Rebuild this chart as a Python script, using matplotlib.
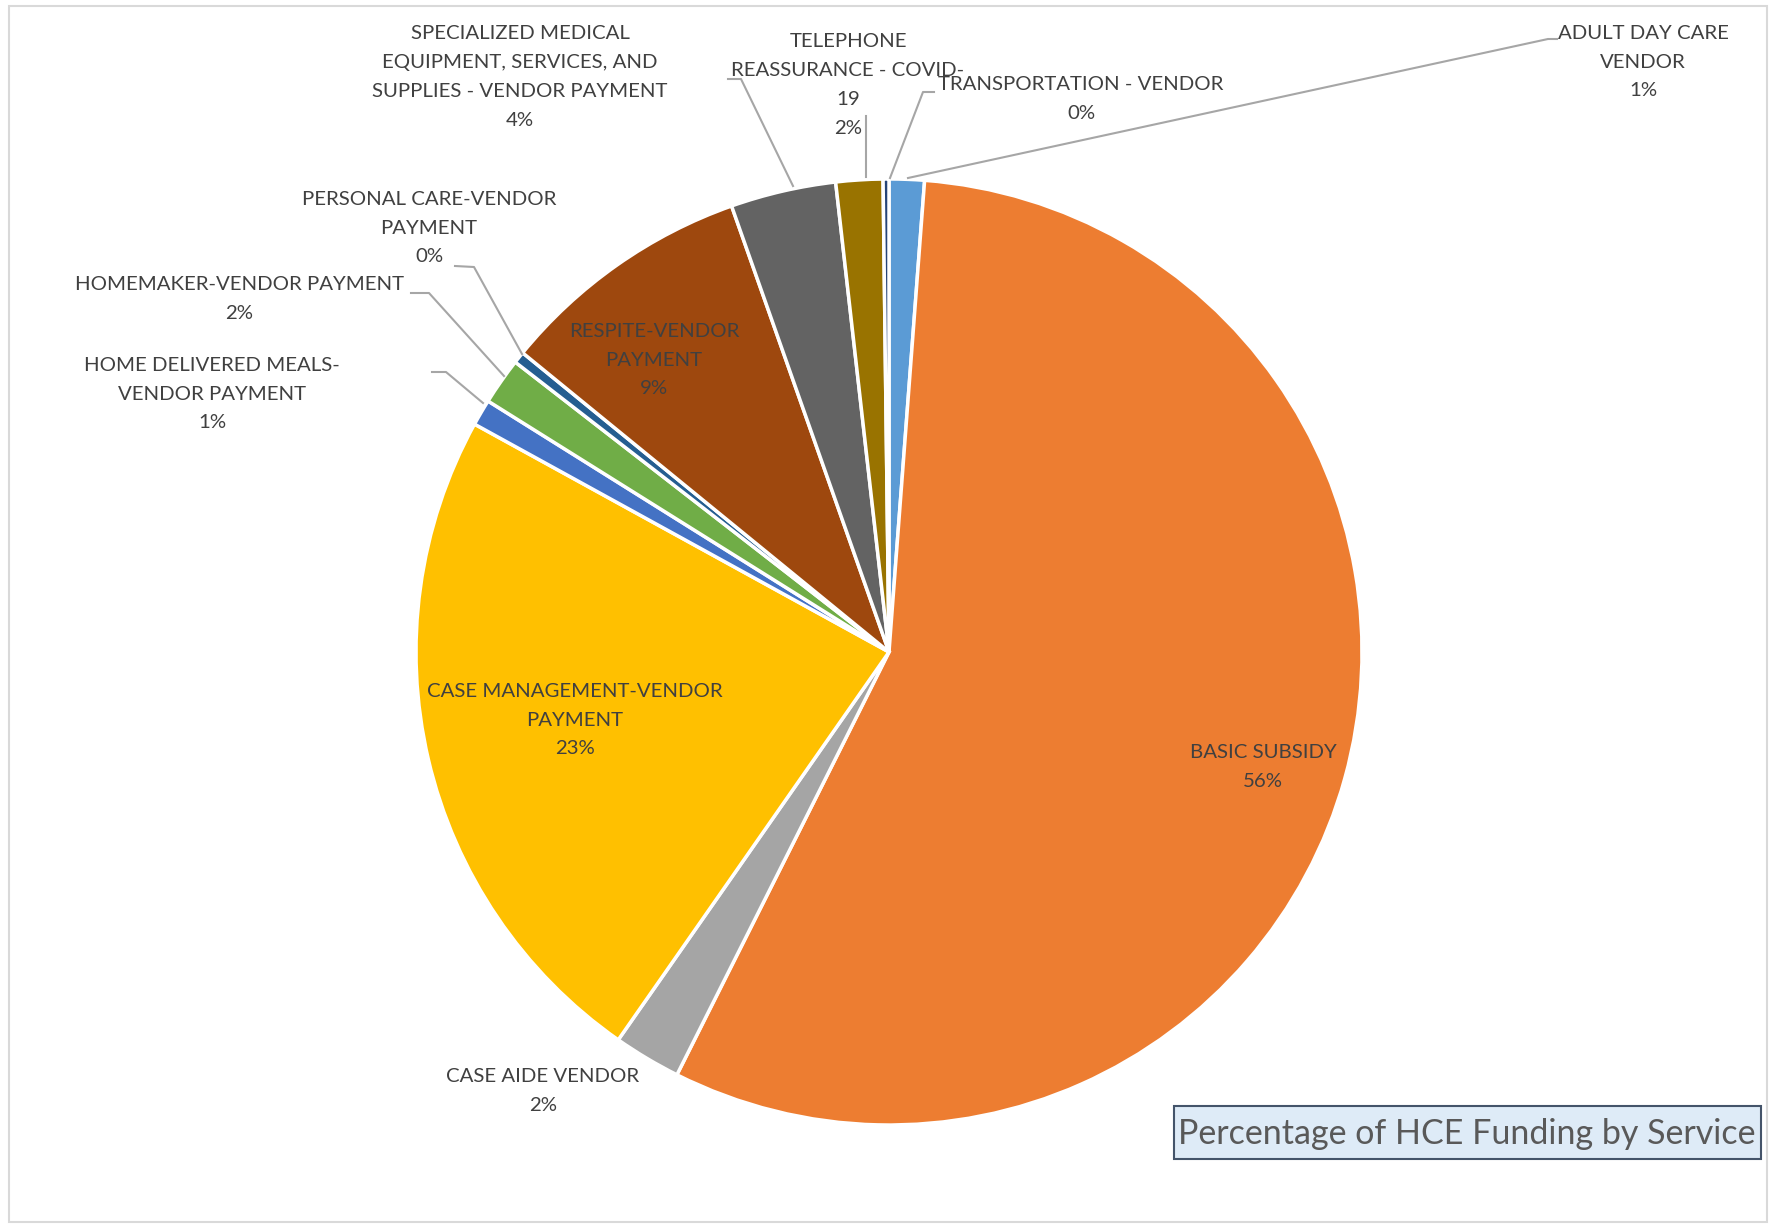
import matplotlib
matplotlib.use("Agg")
import matplotlib.pyplot as plt
from matplotlib.patches import Rectangle

W, H = 1769, 1225

services = ["ADULT DAY CARE\nVENDOR", "BASIC SUBSIDY", "CASE AIDE VENDOR",
            "CASE MANAGEMENT-VENDOR\nPAYMENT", "HOME DELIVERED MEALS-\nVENDOR PAYMENT",
            "HOMEMAKER-VENDOR PAYMENT", "PERSONAL CARE-VENDOR\nPAYMENT",
            "RESPITE-VENDOR\nPAYMENT",
            "SPECIALIZED MEDICAL\nEQUIPMENT, SERVICES, AND\nSUPPLIES - VENDOR PAYMENT",
            "TELEPHONE\nREASSURANCE - COVID-\n19", "TRANSPORTATION - VENDOR"]
shares = [1.2, 56.2, 2.3, 23.3, 0.9, 1.6, 0.4, 8.7, 3.6, 1.6, 0.2]
colors = ["#5B9BD5", "#ED7D31", "#A5A5A5", "#FFC000", "#4472C4", "#70AD47",
          "#255E91", "#9E480E", "#636363", "#997300", "#264478"]

# label centres and leader lines, in pixels from top-left
label_pos = [(1643, 62), (1263, 767), (543, 1091), (575, 720), (212, 394),
             (239, 299), (429, 228), (654, 360), (520, 77), (848, 85), (1081, 99)]
leaders = {
    0: [(908, 178), (1548, 39), (1557, 39)],
    4: [(483, 403), (446, 372), (432, 372)],
    5: [(504, 376), (429, 293), (411, 293)],
    6: [(522, 354), (474, 267), (455, 266)],
    8: [(793, 186), (741, 79), (728, 79)],
    9: [(866, 177), (866, 116)],
    10: [(890, 178), (923, 92), (934, 92)],
}

font = "Lato"
txt_col = "#404040"

fig = plt.figure(figsize=(W / 100, H / 100), dpi=100)
ax = fig.add_axes([0, 0, 1, 1])

ax.pie(shares, colors=colors, startangle=90, counterclock=False,
       center=(889, H - 652), radius=473,
       wedgeprops=dict(edgecolor="white", linewidth=2.5))
# pie() resets the limits, so set them afterwards
ax.set_xlim(0, W)
ax.set_ylim(0, H)
ax.set_aspect("equal")
ax.axis("off")

ax.add_patch(Rectangle((9, H - 1222), 1758, 1216, fill=False,
                       edgecolor="#D9D9D9", lw=1.5))

total = sum(shares)
for i, name in enumerate(services):
    pct = round(shares[i] / total * 100)
    x, y = label_pos[i]
    ax.text(x, H - y, f"{name}\n{pct}%", ha="center", va="center",
            fontsize=14.7, family=font, color=txt_col, linespacing=1.85)

for pts in leaders.values():
    ax.plot([p[0] for p in pts], [H - p[1] for p in pts],
            color="#A6A6A6", lw=1.5)

ax.add_patch(Rectangle((1174, H - 1159), 587, 53, facecolor="#DEEBF7",
                       edgecolor="#44546A", lw=1.5))
ax.text(1467, H - 1134, "Percentage of HCE Funding by Service",
        ha="center", va="center", fontsize=24.5, family=font, color="#595959")

fig.savefig("out.png", dpi=100)
